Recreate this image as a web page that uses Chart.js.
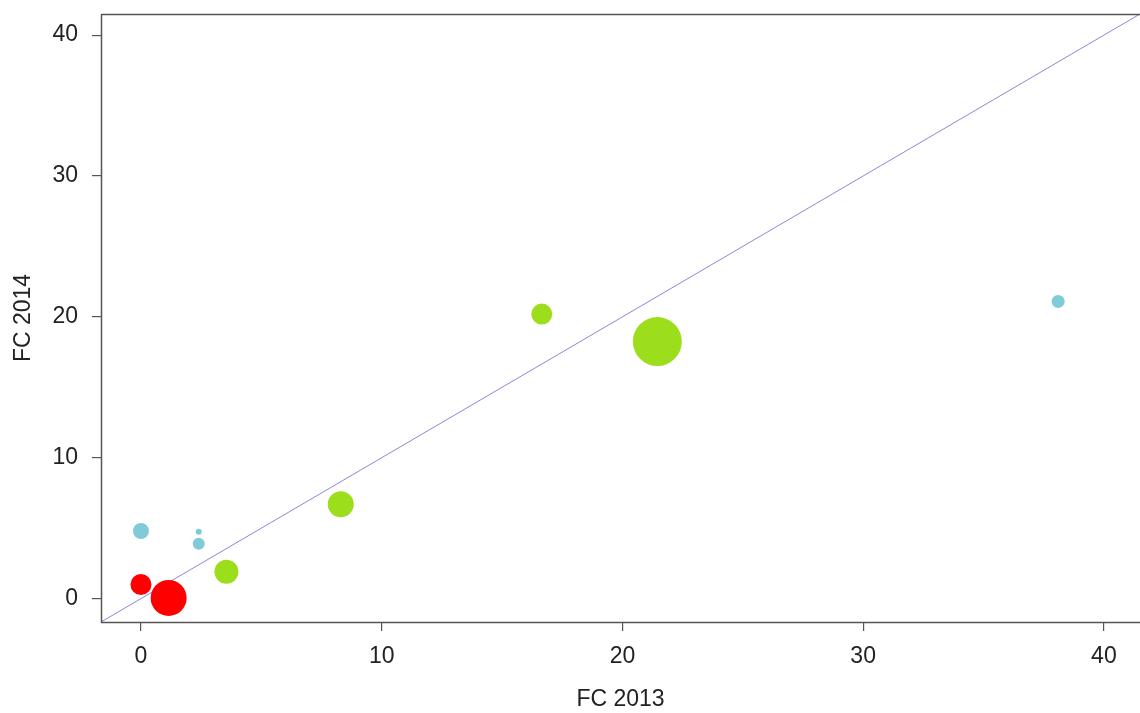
<!DOCTYPE html>
<html>
<head>
<meta charset="utf-8">
<script src="https://cdn.jsdelivr.net/npm/chart.js@4/dist/chart.umd.min.js"></script>
<style>
  body { margin: 0; background: #fff; }
  canvas { display: block; }
</style>
</head>
<body>
<canvas id="chart" width="1140" height="713"></canvas>
<script>
// values (x = FC 2013, y = FC 2014, r = bubble radius in px)
var tickVals = [0, 10, 20, 30, 40];

var cyanX = [0, 2.4, 2.4, 38.1];
var cyanY = [4.8, 4.75, 3.9, 21.1];
var cyanR = [8, 3, 6, 6.5];

var redX = [0, 1.15];
var redY = [1.0, 0.05];
var redR = [10.5, 18];

var greenX = [3.55, 8.3, 16.65, 21.45];
var greenY = [1.9, 6.7, 20.2, 18.25];
var greenR = [12, 13, 10.5, 24.5];

var lineX = [-2, 43];

function pts(xs, ys, rs) {
	var out = [];
	for (var i = 0; i < xs.length; i++) out.push({x: xs[i], y: ys[i], r: rs[i]});
	return out;
}

var font = {family: 'Liberation Sans, Arial, sans-serif', size: 23};

var boxPlugin = {
	id: 'box',
	afterDraw: function(chart) {
		var a = chart.chartArea, ctx = chart.ctx;
		ctx.save();
		ctx.strokeStyle = '#555';
		ctx.lineWidth = 1.5;
		ctx.strokeRect(a.left + 0.5, a.top + 0.5, a.right - a.left + 5, a.bottom - a.top);
		ctx.restore();
	}
};

function axis(title, isY) {
	return {
		type: 'linear',
		min: -1.66,
		max: 41.5,
		afterBuildTicks: function(s) { s.ticks = tickVals.map(function(v) { return {value: v}; }); },
		afterFit: function(s) {
			if (isY) s.width = 101; else s.height = 91;
			s.paddingTop = 0; s.paddingBottom = 0; s.paddingLeft = 0; s.paddingRight = 0;
		},
		grid: {display: true, drawOnChartArea: false, drawTicks: true, tickLength: 9, color: '#555', lineWidth: 1.2},
		border: {display: false},
		ticks: {color: '#222', font: font, padding: isY ? 14 : 12, maxRotation: 0},
		title: {display: true, text: title, color: '#222', font: font, padding: isY ? {top: 10, bottom: 0} : {top: 0, bottom: 0}}
	};
}

new Chart(document.getElementById('chart'), {
	type: 'bubble',
	data: {
		datasets: [
			{type: 'line', data: [{x: lineX[0], y: lineX[0]}, {x: lineX[1], y: lineX[1]}], borderColor: '#8888dd', borderWidth: 1, pointRadius: 0, order: 5},
			{data: pts(cyanX, cyanY, cyanR), backgroundColor: '#7fcbd8', borderWidth: 0, order: 1},
			{data: pts(redX, redY, redR), backgroundColor: '#ff0000', borderWidth: 0, order: 1},
			{data: pts(greenX, greenY, greenR), backgroundColor: '#9cdd1c', borderWidth: 0, order: 1}
		]
	},
	options: {
		responsive: false,
		animation: false,
		events: [],
		layout: {autoPadding: false, padding: {top: 14, right: 0, left: 0, bottom: 0}},
		plugins: {legend: {display: false}, tooltip: {enabled: false}},
		scales: {
			x: axis('FC 2013', false),
			y: axis('FC 2014', true)
		}
	},
	plugins: [boxPlugin]
});
</script>
</body>
</html>
